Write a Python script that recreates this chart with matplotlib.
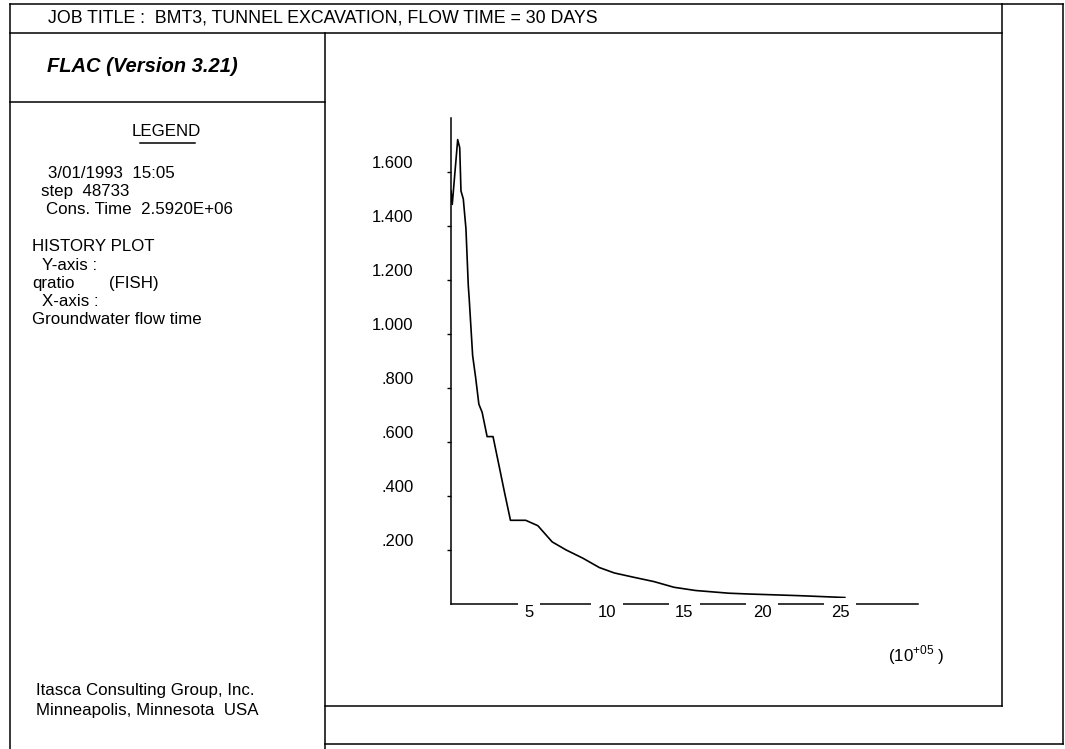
import matplotlib
matplotlib.use("Agg")
from matplotlib import pyplot as plt
from matplotlib.lines import Line2D
from matplotlib.ticker import FixedLocator, FuncFormatter
import matplotlib.transforms as mtransforms

# history: qratio vs groundwater flow time (10^5 s)
time_e5 = [0.0, 0.08, 0.43, 0.56, 0.64, 0.79, 0.96, 1.11, 1.17, 1.39, 1.58, 1.79, 2.0,
           2.32, 2.70, 3.13, 3.45, 3.82, 4.80, 5.58, 6.50, 7.40, 8.46, 9.53, 10.49,
           11.66, 13.04, 14.32, 15.71, 17.84, 19.12, 22.31, 25.3]
qratio = [1.53, 1.48, 1.72, 1.69, 1.53, 1.50, 1.39, 1.18, 1.13, 0.92, 0.84, 0.74, 0.71,
          0.62, 0.62, 0.50, 0.41, 0.31, 0.31, 0.29, 0.23, 0.20, 0.17, 0.135, 0.115,
          0.10, 0.083, 0.062, 0.05, 0.04, 0.037, 0.031, 0.024]

x_ticks = [5, 10, 15, 20, 25]
y_ticks = [0.2, 0.4, 0.6, 0.8, 1.0, 1.2, 1.4, 1.6]

job_title = "JOB TITLE :  BMT3, TUNNEL EXCAVATION, FLOW TIME = 30 DAYS"
legend_lines = ["3/01/1993  15:05", "step  48733", "Cons. Time  2.5920E+06"]
history_lines = ["HISTORY PLOT", "Y-axis :", "qratio", "X-axis :", "Groundwater flow time"]

plt.rcParams["font.family"] = ["Liberation Sans", "DejaVu Sans"]
plt.rcParams["mathtext.fontset"] = "custom"
plt.rcParams["mathtext.rm"] = "Liberation Sans"

W, H = 1065, 749
fig = plt.figure(figsize=(W / 100, H / 100), dpi=100)


def fx(x):
    return x / W


def fy(y):
    return 1 - y / H


def frame_line(x0, y0, x1, y1):
    fig.add_artist(Line2D([fx(x0), fx(x1)], [fy(y0), fy(y1)], transform=fig.transFigure,
                          color="black", lw=1.1))


def label(x, y, s, **kw):
    fig.text(fx(x), fy(y), s, va="center", ha=kw.pop("ha", "left"), fontsize=kw.pop("fontsize", 12.2), **kw)


# page frame
frame_line(10, 4, 1063, 4)
frame_line(1063, 4, 1063, 744)
frame_line(325, 744, 1063, 744)
frame_line(10, 4, 10, 749)
frame_line(10, 33, 1002, 33)
frame_line(1002, 4, 1002, 706)
frame_line(325, 706, 1002, 706)
frame_line(325, 33, 325, 749)
frame_line(10, 102, 325, 102)

label(48, 18, job_title, fontsize=12.8)
label(47, 66, "FLAC (Version 3.21)", fontsize=14.5, fontweight="bold", fontstyle="italic")

label(166, 131, "LEGEND", ha="center")
frame_line(140, 143, 195, 143)

for i, s in enumerate(legend_lines):
    label([48, 41, 46][i], 174 + 17.7 * i, s)
for i, s in enumerate(history_lines):
    label([32, 42, 32, 42, 32][i], 247 + 18.2 * i, s)
label(109, 283.4, "(FISH)")

label(36, 691, "Itasca Consulting Group, Inc.")
label(36, 711, "Minneapolis, Minnesota  USA")

# history plot axes
ax = fig.add_axes([fx(451), fy(604), fx(918) - fx(451), fy(118) - fy(604)])
ax.plot(time_e5, qratio, color="black", lw=1.2)
ax.set_xlim(0, 30)
ax.set_ylim(0, 1.8)

for side in ("top", "right"):
    ax.spines[side].set_visible(False)
for side in ("left", "bottom"):
    ax.spines[side].set_linewidth(1.1)

ax.xaxis.set_major_locator(FixedLocator(x_ticks))
ax.yaxis.set_major_locator(FixedLocator(y_ticks))
ax.yaxis.set_major_formatter(FuncFormatter(lambda v, _: f"{v:.3f}".lstrip("0")))
ax.tick_params(axis="x", length=0, pad=0.5, labelsize=12)
ax.tick_params(axis="y", length=3, width=1, direction="out", pad=24, labelsize=12)

# FLAC breaks the x axis line where the labels sit
ax.xaxis.set_zorder(3)
for lab in ax.get_xticklabels():
    lab.set_bbox(dict(boxstyle="square,pad=0.4", fc="white", ec="none"))

# y labels sit a little above their tick
shift = mtransforms.ScaledTranslation(0, 0.1, fig.dpi_scale_trans)
for lab in ax.get_yticklabels():
    lab.set_transform(lab.get_transform() + shift)

label(888, 655, r"(10$^{\mathregular{+05}}$ )", fontsize=12.2)

fig.savefig("out.png", dpi=100)
